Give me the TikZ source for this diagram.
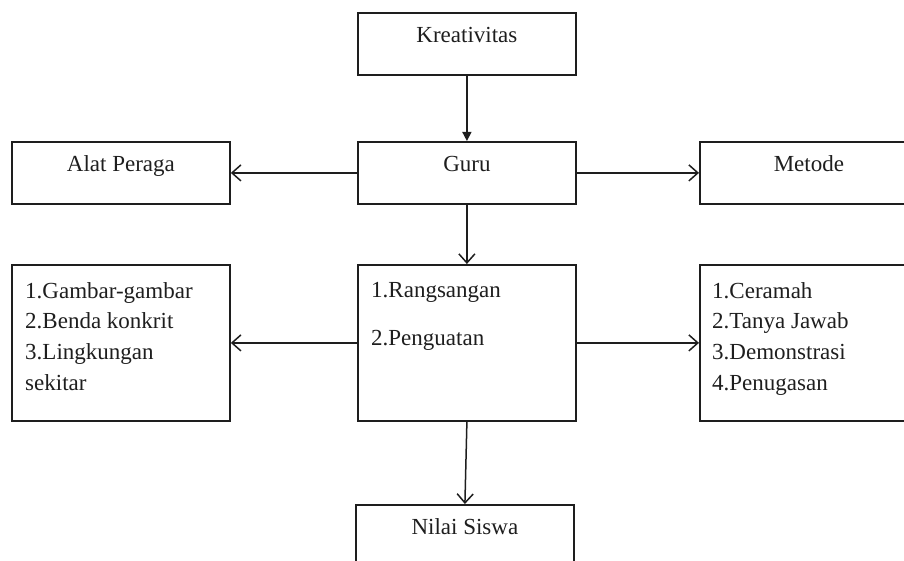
\documentclass[tikz,border=0pt]{standalone}
\usepackage{fontspec}
\setmainfont{Liberation Serif}
\usetikzlibrary{arrows.meta,positioning}
\definecolor{myline}{RGB}{30,30,30}
\definecolor{mytext}{RGB}{30,30,30}
\tikzset{
  box/.style={draw=myline, line width=1.8pt, minimum width=218pt, minimum height=62pt, inner sep=0pt, anchor=north west},
  tallbox/.style={box, minimum height=156pt},
  lbl/.style={inner sep=0pt, text=mytext, font=\fontsize{23}{30.7}\selectfont, text height=15.5pt, text depth=5pt},
  listlbl/.style={inner sep=0pt, text=mytext, font=\fontsize{23}{30.7}\selectfont, align=left},
  link/.style={draw=myline, line width=1.5pt, -{Straight Barb[length=9pt,width=16pt]}},
}

\begin{document}
\begin{tikzpicture}[x=1pt, y=-1pt]
  \useasboundingbox (0,0) rectangle (904,561);
  \clip (0,0) rectangle (904,561);
  \node[box] (kreativitas) at (357,12) {};
  \node[box] (guru) at (357,141) {};
  \node[box] (alat) at (11,141) {};
  \node[box] (metode) at (699,141) {};
  \node[tallbox] (media) at (11,264) {};
  \node[tallbox] (stimulus) at (357,264) {};
  \node[tallbox] (cara) at (699,264) {};
  \node[box] (nilai) at (355,504) {};

  \node[lbl, below=14.5pt of kreativitas.north] (kreativitastxt) {Kreativitas};
  \node[lbl, below=14.5pt of guru.north] (gurutxt) {Guru};
  \node[lbl, below=14.5pt of alat.north] (alattxt) {Alat Peraga};
  \node[lbl, below=14.5pt of metode.north] (metodetxt) {Metode};
  \node[lbl, below=14.5pt of nilai.north] (nilaitxt) {Nilai Siswa};
  \node[listlbl, below right=18pt and 14pt of media.north west] (mediatxt)
    {1.Gambar-gambar\\2.Benda konkrit\\3.Lingkungan\\sekitar};
  \node[listlbl, below right=18pt and 14pt of stimulus.north west] (stimulustxt)
    {1.Rangsangan\\[17.3pt]2.Penguatan};
  \node[listlbl, below right=18pt and 13pt of cara.north west] (caratxt)
    {1.Ceramah\\2.Tanya Jawab\\3.Demonstrasi\\4.Penugasan};

  \draw[draw=myline, line width=1.5pt, -{Triangle[length=9pt,width=9pt]}] (kreativitas.south) -- (guru.north);
  \draw[link] (guru.west) -- (alat.east);
  \draw[link] (guru.east) -- (metode.west);
  \draw[link] (guru.south) -- (stimulus.north);
  \draw[link] (stimulus.west) -- (media.east);
  \draw[link] (stimulus.east) -- (cara.west);
  \draw[link] (stimulus.south) -- (nilai.north);
\end{tikzpicture}
\end{document}
